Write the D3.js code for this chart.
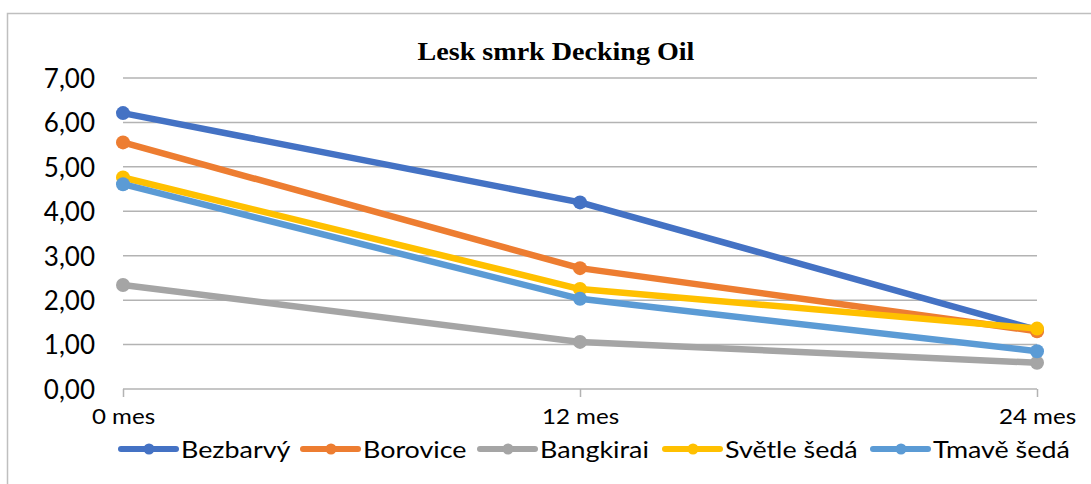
<!DOCTYPE html>
<html>
<head>
<meta charset="utf-8">
<script src="https://cdn.jsdelivr.net/npm/d3@7"></script>
<style>
  html, body { margin: 0; padding: 0; background: #fff; }
  svg { display: block; }
</style>
</head>
<body>
<svg id="chart" width="1091" height="484"></svg>
<script>
const categories = ["0 mes", "12 mes", "24 mes"];
const seriesNames = ["Bezbarvý", "Borovice", "Bangkirai", "Světle šedá", "Tmavě šedá"];
const bezbarvy = [6.21, 4.20, 1.33];
const borovice = [5.55, 2.72, 1.30];
const bangkirai = [2.34, 1.06, 0.59];
const svetleSeda = [4.76, 2.25, 1.36];
const tmaveSeda = [4.61, 2.03, 0.85];
const yTicks = [0, 1, 2, 3, 4, 5, 6, 7];
const colors = ["#4472C4", "#ED7D31", "#A5A5A5", "#FFC000", "#5B9BD5"];
const title = "Lesk smrk Decking Oil";

const series = [bezbarvy, borovice, bangkirai, svetleSeda, tmaveSeda].map((v, i) => ({
  name: seriesNames[i], values: v, color: colors[i]
}));

const svg = d3.select("#chart");

// outer chart border
svg.append("rect").attr("x", 7.5).attr("y", 13.5).attr("width", 1200).attr("height", 600)
  .attr("fill", "#fff").attr("stroke", "#bfbfbf").attr("stroke-width", 1.5);

const x = d3.scalePoint().domain(categories).range([123, 1037]);
const y = d3.scaleLinear().domain([0, 7]).range([389, 78]);

// title
svg.append("text").attr("x", 556).attr("y", 60).attr("text-anchor", "middle")
  .attr("font-family", "'Liberation Serif', 'Times New Roman', serif")
  .attr("font-weight", "bold").attr("font-size", 26)
  .attr("transform", "translate(556,0) scale(1.08,1) translate(-556,0)")
  .text(title);

// gridlines
svg.append("g").selectAll("line").data(yTicks.filter(d => d > 0)).join("line")
  .attr("x1", 123).attr("x2", 1037)
  .attr("y1", d => y(d)).attr("y2", d => y(d))
  .attr("stroke", "#b3b3b3").attr("stroke-width", 1.5);

// y axis labels
const yAxis = d3.axisLeft(y).tickValues(yTicks).tickSize(0).tickPadding(28)
  .tickFormat(d => d3.format(".2f")(d).replace(".", ","));
const gy = svg.append("g").attr("transform", "translate(123,0)").call(yAxis);
gy.select(".domain").remove();
gy.selectAll("text").attr("font-family", "Lato, 'Open Sans', sans-serif")
  .attr("font-size", 26).attr("fill", "#000").attr("dy", "0.36em");

// x axis
const xAxis = d3.axisBottom(x).tickSize(8).tickPadding(12).tickSizeOuter(0);
const gx = svg.append("g").attr("transform", "translate(0,389)").call(xAxis);
gx.select(".domain").attr("stroke", "#b3b3b3").attr("stroke-width", 1.5)
  .attr("d", "M123,0H1037");
gx.selectAll(".tick line").attr("stroke", "#b3b3b3").attr("stroke-width", 1.5);
gx.selectAll("text").attr("font-family", "Lato, 'Open Sans', sans-serif")
  .attr("font-size", 21).attr("fill", "#000")
  .attr("transform", "scale(1.15,1)");

// lines
const line = d3.line().x((d, i) => x(categories[i])).y(d => y(d));
const gs = svg.append("g");
series.forEach(s => {
  const g = gs.append("g");
  g.append("path").attr("d", line(s.values)).attr("fill", "none")
    .attr("stroke", s.color).attr("stroke-width", 6.5).attr("stroke-linejoin", "round");
  g.selectAll("circle").data(s.values).join("circle")
    .attr("cx", (d, i) => x(categories[i])).attr("cy", d => y(d)).attr("r", 7)
    .attr("fill", s.color);
});

// legend
const legendX = [121, 303, 480, 665, 873];
const lg = svg.append("g").attr("transform", "translate(0,449)");
series.forEach((s, i) => {
  const g = lg.append("g").attr("transform", `translate(${legendX[i]},0)`);
  g.append("line").attr("x1", 0).attr("x2", 55).attr("y1", 0).attr("y2", 0)
    .attr("stroke", s.color).attr("stroke-width", 6).attr("stroke-linecap", "round");
  g.append("circle").attr("cx", 28).attr("cy", 0).attr("r", 5.5).attr("fill", s.color);
  g.append("text").attr("x", 60).attr("y", 0).attr("dy", "0.36em")
    .attr("font-family", "Lato, 'Open Sans', sans-serif").attr("font-size", 24)
    .attr("fill", "#000")
    .attr("transform", "translate(60,0) scale(1.12,1) translate(-60,0)")
    .text(s.name);
});
</script>
</body>
</html>
